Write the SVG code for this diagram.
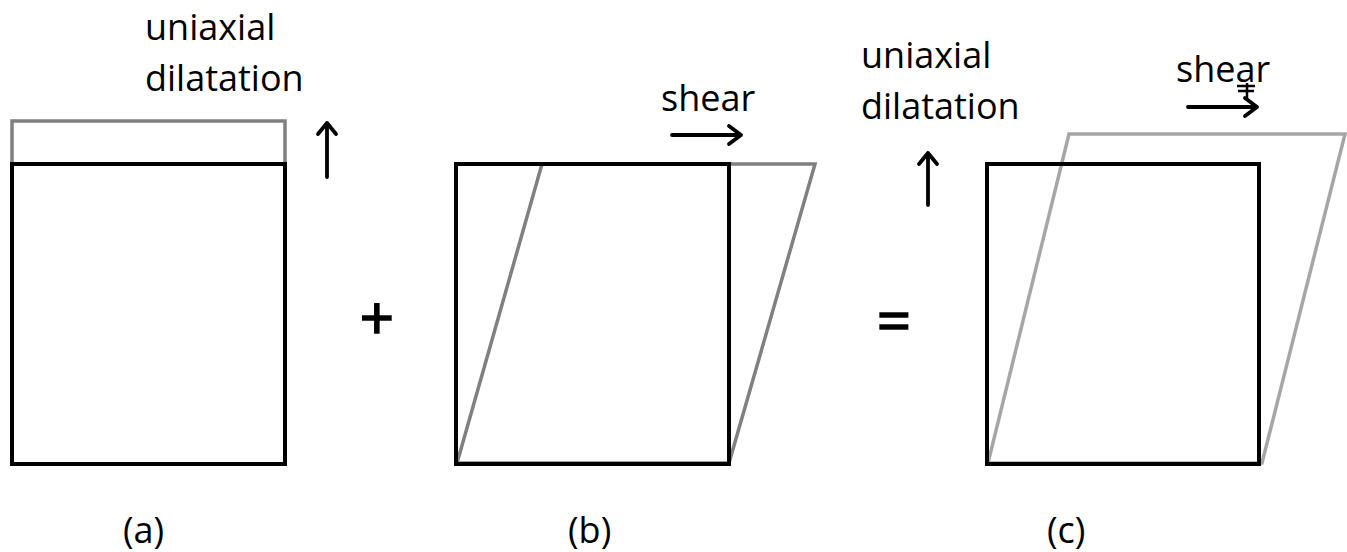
<svg xmlns="http://www.w3.org/2000/svg" width="1347" height="552" viewBox="0 0 1347 552">
<style>
.t{font-family:"Open Sans","Noto Sans","Liberation Sans",sans-serif;font-size:36px;fill:#000}
.op{font-family:"Open Sans","Noto Sans","Liberation Sans",sans-serif;font-size:60px;fill:#000;stroke:#000;stroke-width:1.6}
.blk{fill:none;stroke:#000;stroke-width:4}
.g1{fill:none;stroke:#808080;stroke-width:3.5}
.g2{fill:none;stroke:#a6a6a6;stroke-width:3.5}
.arr{fill:none;stroke:#000;stroke-width:3.8;stroke-linecap:round;stroke-linejoin:round}
</style>
<rect width="1347" height="552" fill="#fff"/>
<g id="a">
<rect class="g1" x="12" y="121" width="273" height="43"/>
<rect class="blk" x="12" y="164" width="273" height="300"/>
<text class="t" x="145" y="40">uniaxial</text>
<text class="t" x="145" y="91">dilatation</text>
<text class="t" x="123" y="543">(a)</text>
</g>
<g id="b">
<polygon class="g1" points="457,463 542,164 815,164 729,463"/>
<rect class="blk" x="456" y="164" width="273" height="300"/>
<text class="t" x="661" y="111">shear</text>
<text class="t" x="568" y="543">(b)</text>
</g>
<g id="c">
<polygon class="g2" points="988,463 1069,134 1345,134 1262,463"/>
<rect class="blk" x="987" y="164" width="272" height="300"/>
<text class="t" x="861" y="68">uniaxial</text>
<text class="t" x="861" y="119">dilatation</text>
<text class="t" x="1176" y="82">shear</text>
<text class="t" x="1047" y="543">(c)</text>
<g stroke="#000" stroke-width="2.5" fill="none">
<line x1="1247" y1="83" x2="1247" y2="101"/>
<line x1="1237" y1="86" x2="1255" y2="86"/>
<line x1="1238" y1="91" x2="1254" y2="91"/>
</g>
</g>
<g id="ops">
<text class="op" x="377" y="340" text-anchor="middle">+</text>
<text class="op" x="894" y="342" text-anchor="middle">=</text>
</g>
<g id="connectors">
<path class="arr" d="M327,177 V123 M318,134 L327,123 L336,134"/>
<path class="arr" d="M928,205 V153 M919,164 L928,153 L937,164"/>
<path class="arr" d="M672,135 H741 M729,126 L741,135 L729,144"/>
<path class="arr" d="M1188,107 H1257 M1245,98 L1257,107 L1245,116"/>
</g>
</svg>
